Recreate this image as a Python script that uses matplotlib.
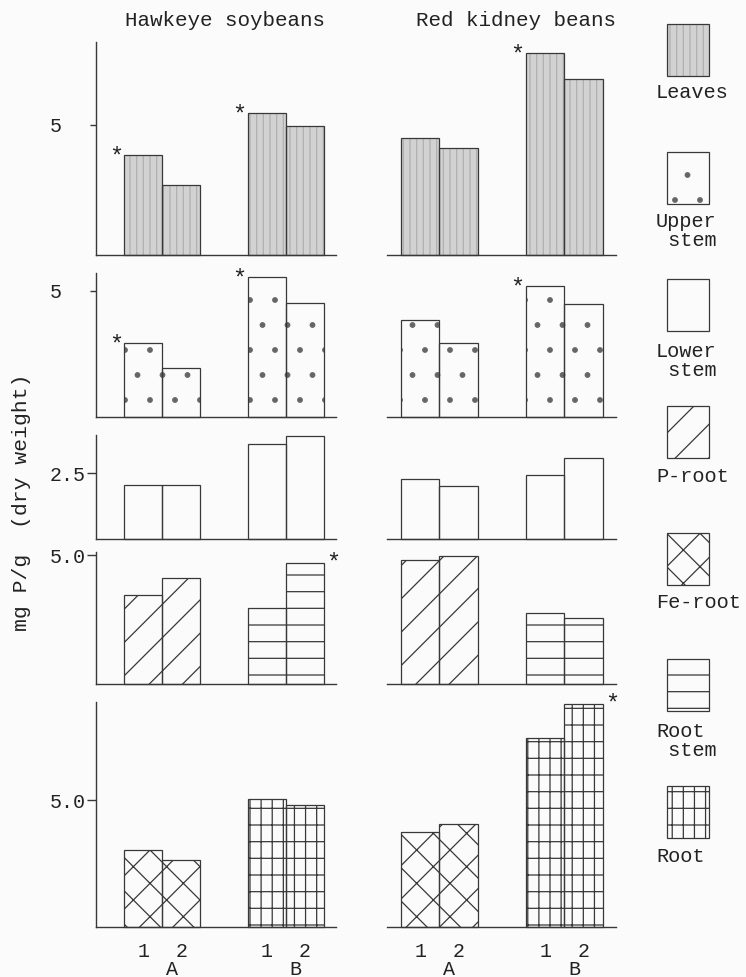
import matplotlib
matplotlib.use("Agg")
import matplotlib.pyplot as plt
import matplotlib.hatch as mhatch
from matplotlib.patches import Rectangle

# ---------------- data ----------------
species = ["Hawkeye soybeans", "Red kidney beans"]
bar_labels = ["1", "2", "1", "2"]
group_labels = ["A", "B"]

leaves_hawkeye = [3.85, 2.69, 5.46, 4.96]
leaves_kidney = [4.50, 4.10, 7.77, 6.77]
upper_hawkeye = [2.93, 1.93, 5.56, 4.53]
upper_kidney = [3.84, 2.94, 5.20, 4.50]
lower_hawkeye = [2.03, 2.03, 3.61, 3.89]
lower_kidney = [2.29, 2.00, 2.44, 3.05]
root4_hawkeye = [3.45, 4.12, 2.96, 4.68]   # A: P-root, B: Root stem
root4_kidney = [4.82, 4.98, 2.75, 2.56]
root5_hawkeye = [3.06, 2.66, 5.06, 4.84]   # A: Fe-root, B: Root
root5_kidney = [3.75, 4.05, 7.47, 8.81]

row_values = [
    (leaves_hawkeye, leaves_kidney),
    (upper_hawkeye, upper_kidney),
    (lower_hawkeye, lower_kidney),
    (root4_hawkeye, root4_kidney),
    (root5_hawkeye, root5_kidney),
]
row_parts = [("Leaves", "Leaves"), ("Upper stem", "Upper stem"),
             ("Lower stem", "Lower stem"), ("P-root", "Root stem"),
             ("Fe-root", "Root")]
ytick_vals = [5, 5, 2.5, 5.0, 5.0]
ytick_labels = ["5", "5", "2.5", "5.0", "5.0"]
legend_parts = ["Leaves", "Upper stem", "Lower stem", "P-root",
                "Fe-root", "Root stem", "Root"]
legend_texts = ["Leaves", "Upper\n stem", "Lower\n stem", "P-root",
                "Fe-root", "Root\n stem", "Root"]
# significance stars: (row, column, bar index, side)
stars = [(0, 0, 0, "L"), (0, 0, 2, "L"), (0, 1, 2, "L"),
         (1, 0, 0, "L"), (1, 0, 2, "L"), (1, 1, 2, "L"),
         (3, 0, 3, "R"), (4, 1, 3, "R")]
ylabel = "mg P/g  (dry weight)"

# ---------------- style ----------------
W, H, DPI = 746, 977, 200
FONT = "Liberation Mono"
INK = "#383838"
PAPER = "#fbfbfb"
plt.rcParams["font.family"] = [FONT, "DejaVu Sans"]
plt.rcParams["hatch.linewidth"] = 0.45


class _Dots(mhatch.Circles):
    size = 0.09
    filled = True

    def __init__(self, hatch, density):
        n = int(round(hatch.count(".") * density * 0.75 / 2.0)) * 2
        self.num_rows = n
        super().__init__(hatch, density)


mhatch._hatch_types = [(_Dots if t is mhatch.SmallFilledCircles else t)
                       for t in mhatch._hatch_types]

styles = {
    "Leaves": ("#d2d2d2", "|||||", "#b0b0b0"),
    "Upper stem": (PAPER, "..", "#666666"),
    "Lower stem": (PAPER, None, INK),
    "P-root": (PAPER, "//", INK),
    "Fe-root": (PAPER, "xx", INK),
    "Root stem": (PAPER, "--", INK),
    "Root": (PAPER, "|||--", INK),
}

xpos = [0, 1, 3.25, 4.25]
bar_w = 1.0
col_px = [(96, 336, (-1.25, 5.07)), (387, 616, (-0.86, 5.09))]
row_px = [(42, 255), (273, 417), (435, 539), (552, 684), (702, 927)]
row_ylim = [8.19, 5.71, 3.94, 5.12, 8.89]
tick_len_px = [6, 6, 9, 9, 9]
tick_pad_px = [28, 28, 1, 1, 1]

PT = 72.0 / DPI  # points per pixel


def rect(x0, x1, ytop, ybot):
    return [x0 / W, 1 - ybot / H, (x1 - x0) / W, (ybot - ytop) / H]


fig = plt.figure(figsize=(W / DPI, H / DPI), dpi=DPI, facecolor=PAPER)

# legend column (pixel coordinates)
leg = fig.add_axes([0, 0, 1, 1])
leg.set_xlim(0, W)
leg.set_ylim(H, 0)
leg.axis("off")
leg.patch.set_visible(False)
leg_box_top = [24, 152, 279, 406, 533, 659, 786]
leg_label_y = [92, 231, 361, 477, 603, 741, 857]
for part, txt, top, ly in zip(legend_parts, legend_texts, leg_box_top, leg_label_y):
    fc, hat, hc = styles[part]
    leg.add_patch(Rectangle((667, top), 42, 52, facecolor=fc, hatch=hat,
                            edgecolor=hc, linewidth=0))
    leg.add_patch(Rectangle((667, top), 42, 52, fill=False,
                            edgecolor=INK, linewidth=0.45))
    leg.text(656, ly, txt, ha="left", va="center", fontsize=7.3,
             color="#222222", linespacing=0.95, family=[FONT, "DejaVu Sans"])

for r, (vals_pair, parts) in enumerate(zip(row_values, row_parts)):
    ytop, ybot = row_px[r]
    for c in range(2):
        x0, x1, xl = col_px[c]
        ax = fig.add_axes(rect(x0, x1, ytop, ybot))
        ax.patch.set_visible(False)
        vals = vals_pair[c]
        for gi in range(2):
            fc, hat, hc = styles[parts[gi]]
            xs = xpos[2 * gi:2 * gi + 2]
            hs = vals[2 * gi:2 * gi + 2]
            ax.bar(xs, hs, width=bar_w, color=fc, hatch=hat, edgecolor=hc,
                   linewidth=0, clip_on=False, zorder=2)
            ax.bar(xs, hs, width=bar_w, fill=False, edgecolor=INK,
                   linewidth=0.45, clip_on=False, zorder=3)
        ax.set_xlim(*xl)
        ax.set_ylim(0, row_ylim[r])
        for s in ("top", "right"):
            ax.spines[s].set_visible(False)
        ax.spines["bottom"].set_color(INK)
        ax.spines["bottom"].set_linewidth(0.5)
        if c == 0:
            ax.spines["left"].set_color(INK)
            ax.spines["left"].set_linewidth(0.5)
            ax.set_yticks([ytick_vals[r]], [ytick_labels[r]])
            ax.tick_params(axis="y", length=tick_len_px[r] * PT, width=0.5,
                           color=INK, pad=tick_pad_px[r] * PT,
                           labelsize=7.2, labelcolor="#222222")
        else:
            ax.spines["left"].set_visible(False)
            ax.set_yticks([])
        if r == 4:
            ax.set_xticks(xpos, bar_labels)
            centers = [(xpos[0] + xpos[1]) / 2 + 0.25, (xpos[2] + xpos[3]) / 2 + 0.25]
            ax.set_xticks(centers, group_labels, minor=True)
            ax.tick_params(axis="x", which="major", length=0, pad=5.5,
                           labelsize=7.2, labelcolor="#222222")
            ax.tick_params(axis="x", which="minor", length=0, pad=11.8,
                           labelsize=7.2, labelcolor="#222222")
        else:
            ax.set_xticks([])
        for (sr, sc, bi, side) in stars:
            if sr == r and sc == c:
                h = vals[bi]
                if side == "L":
                    ax.annotate("*", xy=(xpos[bi] - bar_w / 2, h),
                                xytext=(-0.6, -3.2), textcoords="offset points",
                                ha="right", va="baseline", fontsize=8.5,
                                color="#222222", annotation_clip=False)
                else:
                    ax.annotate("*", xy=(xpos[bi] + bar_w / 2, h),
                                xytext=(0.8, -2.4), textcoords="offset points",
                                ha="left", va="baseline", fontsize=8.5,
                                color="#222222", annotation_clip=False)

for name, cx in zip(species, [225, 516]):
    fig.text(cx / W, 1 - 21 / H, name, ha="center", va="center",
             fontsize=7.5, color="#222222")

fig.text(22 / W, 1 - 502 / H, ylabel, rotation=90, ha="center", va="center",
         fontsize=7.7, color="#222222")

fig.savefig("out.png", dpi=DPI, facecolor=PAPER)
